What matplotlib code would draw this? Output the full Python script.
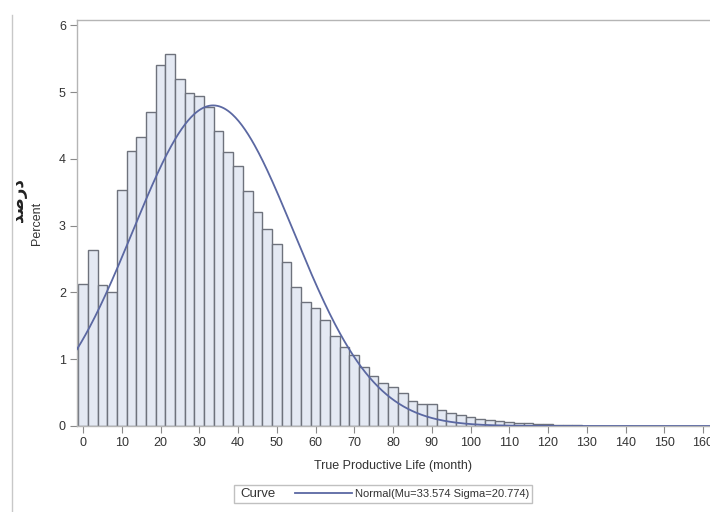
import numpy as np
import matplotlib
matplotlib.use("Agg")
import matplotlib.pyplot as plt
from matplotlib.lines import Line2D
from matplotlib.patches import Rectangle

plt.rcParams['font.family'] = ['Liberation Sans', 'DejaVu Sans']

# histogram percentages, bins 2.5 months wide centred on 0, 2.5, 5, ...
percent = [2.13, 2.64, 2.11, 2.01, 3.54, 4.12, 4.33, 4.70, 5.41, 5.57,
           5.19, 4.98, 4.94, 4.78, 4.42, 4.10, 3.89, 3.52, 3.21, 2.95,
           2.72, 2.45, 2.08, 1.86, 1.76, 1.58, 1.35, 1.18, 1.07, 0.88,
           0.75, 0.64, 0.59, 0.49, 0.38, 0.33, 0.33, 0.24, 0.19, 0.17,
           0.14, 0.11, 0.09, 0.07, 0.06, 0.05, 0.04, 0.03, 0.03, 0.02,
           0.02, 0.01]
bin_width = 2.5
mid = np.arange(len(percent)) * bin_width

# fitted normal curve parameters (from the legend)
mu = 33.574
sigma = 20.774

xticks = list(range(0, 161, 10))
yticks = [0, 1, 2, 3, 4, 5, 6]

fig = plt.figure(figsize=(7.1, 5.12), dpi=100)
ax = fig.add_axes([77 / 710, 86 / 512, 633 / 710, 406 / 512])

ax.bar(mid, percent, width=bin_width, color='#e4e9f3', edgecolor='#6e727c',
       linewidth=1.0, zorder=2)

xs = np.linspace(-1.55, 161.8, 600)
ys = 100 * bin_width * np.exp(-0.5 * ((xs - mu) / sigma) ** 2) / (sigma * np.sqrt(2 * np.pi))
ax.plot(xs, ys, color='#5b68a2', lw=1.3, zorder=3)

ax.set_xlim(-1.55, 161.8)
ax.set_ylim(0, 6.08)
ax.set_xticks(xticks)
ax.set_yticks(yticks)
ax.tick_params(axis='both', colors='#8a8a8a', labelcolor='#333333',
               labelsize=9, length=5, width=0.8, pad=3)

for side in ['left', 'top', 'bottom']:
    ax.spines[side].set_color('#b5b5b5')
    ax.spines[side].set_linewidth(1.0)
ax.spines['right'].set_visible(False)

ax.set_xlabel('True Productive Life (month)', fontsize=9, color='#333333', labelpad=8)
fig.text(37 / 710, 1 - 223 / 512, 'Percent', rotation=90, fontsize=9,
         color='#333333', ha='center', va='center')
fig.text(18 / 710, 1 - 200 / 512, '\ufeaa\ufebb\ufead\ufea9', rotation=90,
         fontsize=12, fontweight='bold', color='#222222', ha='center',
         va='center', family=['DejaVu Sans'])

# thin border line at the far left of the screenshot
fig.add_artist(Line2D([12 / 710, 12 / 710], [0, 1 - 15 / 512],
                      transform=fig.transFigure, color='#c8c8c8', lw=1))

# legend box
fig.add_artist(Rectangle((234 / 710, 1 - 503 / 512), 298 / 710, 18 / 512,
                         transform=fig.transFigure, facecolor='white',
                         edgecolor='#c0c0c0', lw=1))
fig.text(240 / 710, 1 - 494 / 512, 'Curve', fontsize=9.5, color='#333333',
         va='center', ha='left')
fig.add_artist(Line2D([295 / 710, 352 / 710], [1 - 493 / 512, 1 - 493 / 512],
                      transform=fig.transFigure, color='#5b68a2', lw=1.3))
fig.text(355 / 710, 1 - 494 / 512, 'Normal(Mu=%.3f Sigma=%.3f)' % (mu, sigma),
         fontsize=8, color='#333333', va='center', ha='left')

fig.savefig('out.png', dpi=100)
